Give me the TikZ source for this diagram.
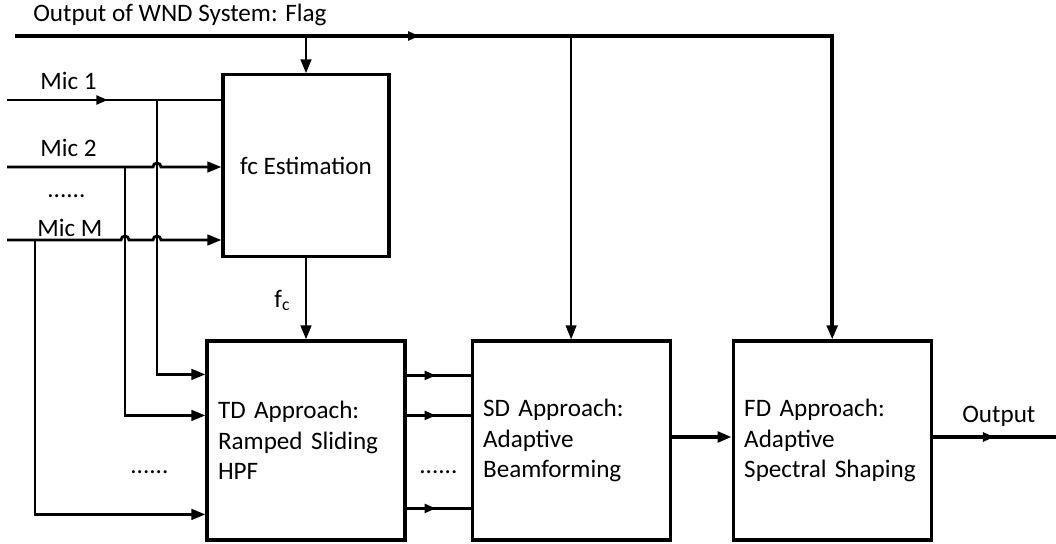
\documentclass[tikz,border=0pt]{standalone}
\usepackage{fontspec}
\setmainfont{Carlito}
\usetikzlibrary{arrows.meta, positioning, calc, decorations.markings}
\tikzset{
  stage/.style={draw, line width=1.8pt, fill=white, align=left, text width=3.52cm,
                inner xsep=0.22cm, minimum height=3.98cm},
  sig/.style={line width=1.6pt},
  arr/.style={-{Triangle[length=8pt, width=6pt]}},
  midarrow/.style={postaction={decorate}, decoration={markings,
                   mark=at position #1 with {\arrow{Triangle[length=6.5pt, width=5pt]}}}},
  lbl/.style={inner sep=0pt},
}
\begin{document}
\begin{tikzpicture}[x=0.02cm, y=-0.02cm, font=\fontsize{14.3}{17.3}\selectfont]
\useasboundingbox (0,0) rectangle (1056,544);
% processing stages
\node[stage] (TD) at (306,440.5) {TD Approach:\\Ramped Sliding\\HPF};
\node[stage, right=1.28cm of TD] (SD) {SD Approach:\\Adaptive\\Beamforming};
\node[stage, right=1.2cm of SD] (FD) {FD Approach:\\Adaptive\\Spectral Shaping};
\node[draw, line width=1.8pt, minimum width=3.32cm, minimum height=3.64cm,
      above=1.62cm of TD] (fc) {fc Estimation};
% labels
\node[lbl, anchor=base west] (flagtxt) at (33,22) {Output of WND System: Flag};
\node[lbl, anchor=base west] (mic1txt) at (40,90) {Mic 1};
\node[lbl, anchor=base west] (mic2txt) at (40,157) {Mic 2};
\node[lbl, anchor=base west] (micdots) at (47,198) {......};
\node[lbl, anchor=base west] (micMtxt) at (37,236) {Mic M};
\node[lbl, anchor=base west] (fctxt) at (274,307) {f\textsubscript{c}};
\node[lbl, anchor=base west] (tddots) at (130,473) {......};
\node[lbl, anchor=base west] (sddots) at (419,473) {......};
\node[lbl, anchor=base west] (outtxt) at (962,422) {Output};
% inputs
\coordinate (flagstart) at (15,36);
\coordinate (fcorner) at (FD.north |- flagstart);
\coordinate (m1) at (7,100);
\coordinate (m2) at (7,167);
\coordinate (mM) at (7,240);
\coordinate (t1) at (157,100);
\coordinate (t2) at (125,167);
\coordinate (tM) at (35,240);
\coordinate (outend) at (1056,437);
% flag distribution
\draw[sig, line width=2pt, arr, midarrow=0.361] (flagstart) -- (fcorner) -- (FD.north);
\draw[sig, arr] (flagstart -| fc.north) -- (fc.north);
\draw[sig, line width=1.2pt, arr] (flagstart -| SD.north) -- (SD.north);
% microphones into fc estimation
\draw[sig, midarrow=0.47] (m1) -- (m1 -| fc.west);
\draw[sig, arr] (m2) -- (153,167) arc[start angle=180, end angle=0, radius=0.08cm] -- (m2 -| fc.west);
\draw[sig, arr] (mM) -- (121,240) arc[start angle=180, end angle=0, radius=0.08cm]
  -- (153,240) arc[start angle=180, end angle=0, radius=0.08cm] -- (mM -| fc.west);
% microphones into TD
\draw[sig, arr] (t1) |- ($(TD.north west)+(0,35)$);
\draw[sig, arr] (t2) |- ($(TD.north west)+(0,76)$);
\draw[sig, arr] (tM) |- ($(TD.north west)+(0,175)$);
\draw[sig, arr] (fc.south) -- (TD.north);
% TD to SD
\foreach \dy in {36, 76, 169}{
  \draw[sig, line width=2.2pt, midarrow=0.46] ($(TD.north east)+(0,\dy)$) -- ($(SD.north west)+(0,\dy)$);
}
\draw[sig, line width=2.2pt, arr] ([yshift=0.07cm]SD.east) -- ([yshift=0.07cm]FD.west);
\draw[sig, line width=2.2pt, midarrow=0.5] ([yshift=0.07cm]FD.east) -- (outend);
\end{tikzpicture}
\end{document}
